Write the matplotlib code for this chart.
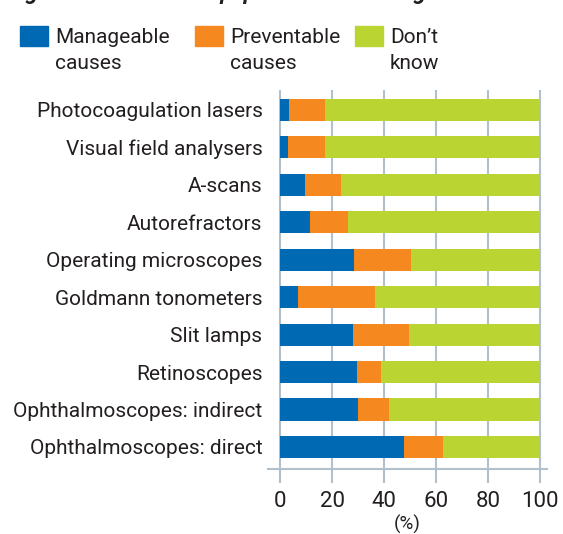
import numpy as np
import matplotlib
matplotlib.use("Agg")
import matplotlib.pyplot as plt
from matplotlib.patches import Rectangle

plt.rcParams['font.family'] = ['Roboto', 'DejaVu Sans']

# data, top to bottom as in the chart
equipment = ["Photocoagulation lasers", "Visual field analysers", "A-scans",
             "Autorefractors", "Operating microscopes", "Goldmann tonometers",
             "Slit lamps", "Retinoscopes", "Ophthalmoscopes: indirect",
             "Ophthalmoscopes: direct"]
manageable = [3.3, 3.0, 9.5, 11.4, 28.4, 6.8, 28.0, 29.5, 29.9, 47.6]
preventable = [13.9, 14.2, 13.9, 14.7, 21.9, 29.7, 21.6, 9.3, 11.9, 15.0]
dont_know = [100 - m - p for m, p in zip(manageable, preventable)]
xticks = [0, 20, 40, 60, 80, 100]

labels = ["Manageable\ncauses", "Preventable\ncauses", "Don\u2019t\nknow"]
colors = ["#0069b4", "#f5891f", "#bad532"]
grid_col = "#b3bfca"
text_col = "#231f20"

W, H = 563, 534
fig = plt.figure(figsize=(W / 100, H / 100), dpi=100)
ax = fig.add_axes([268 / W, 1 - 469 / H, 279 / W, 379 / H])

y = np.arange(len(equipment))
ax.barh(y, manageable, height=0.59, color=colors[0], zorder=3)
ax.barh(y, preventable, left=manageable, height=0.59, color=colors[1], zorder=3)
left2 = [m + p for m, p in zip(manageable, preventable)]
ax.barh(y, dont_know, left=left2, height=0.59, color=colors[2], zorder=3)

ax.set_xlim(-4.7, 102.7)
ax.set_ylim(len(equipment) - 1 + 0.588, -0.534)

ax.set_xticks(xticks)
ax.set_xticklabels([str(t) for t in xticks], fontsize=16, color=text_col)
ax.xaxis.grid(True, color=grid_col, linewidth=1.5, zorder=0)
ax.tick_params(axis='x', length=10, width=1.5, color=grid_col, pad=6)

ax.set_yticks(y)
ax.set_yticklabels(equipment, fontsize=15, color=text_col)
ax.tick_params(axis='y', length=0, pad=4)

for s in ["top", "right", "left"]:
    ax.spines[s].set_visible(False)
ax.spines["bottom"].set_color(grid_col)
ax.spines["bottom"].set_linewidth(1.5)

ax.set_xlabel("(%)", fontsize=13.5, color=text_col, labelpad=2)

# legend drawn by hand
box_x = [20, 195, 355]
for bx, lab, c in zip(box_x, labels, colors):
    fig.patches.append(Rectangle((bx / W, 1 - 46 / H), 28 / W, 20 / H,
                                 transform=fig.transFigure, color=c))
    fig.text((bx + 35) / W, 1 - 28 / H, lab, fontsize=15, color=text_col,
             va='top', ha='left', linespacing=1.45)

# title cut off at the top of the crop
fig.text(8 / W, 1 + 1 / H, "Figure 3: Causes of equipment not working",
         fontsize=16, fontweight='bold', fontstyle='italic', color=text_col,
         va='baseline', ha='left')

fig.savefig("out.png", dpi=100)
